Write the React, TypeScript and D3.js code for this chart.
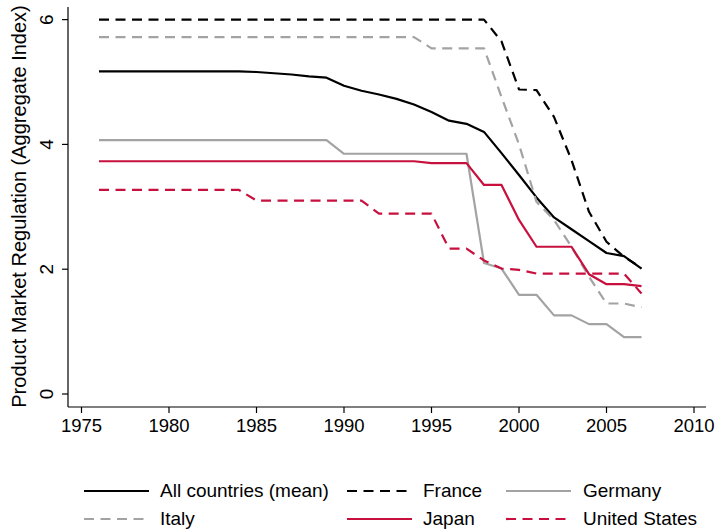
import React, { useEffect, useRef } from "react";
import * as d3 from "d3";

// Years on the x axis
const years = [
  1976, 1977, 1978, 1979, 1980, 1981, 1982, 1983, 1984, 1985, 1986, 1987, 1988, 1989, 1990, 1991,
  1992, 1993, 1994, 1995, 1996, 1997, 1998, 1999, 2000, 2001, 2002, 2003, 2004, 2005, 2006, 2007,
];

const meanValues = [
  5.17, 5.17, 5.17, 5.17, 5.17, 5.17, 5.17, 5.17, 5.17, 5.16, 5.14, 5.12, 5.09, 5.07, 4.94, 4.86,
  4.8, 4.73, 4.64, 4.52, 4.38, 4.33, 4.2, 3.86, 3.51, 3.15, 2.83, 2.64, 2.45, 2.26, 2.21, 2.01,
];
const franceValues = [
  6.0, 6.0, 6.0, 6.0, 6.0, 6.0, 6.0, 6.0, 6.0, 6.0, 6.0, 6.0, 6.0, 6.0, 6.0, 6.0,
  6.0, 6.0, 6.0, 6.0, 6.0, 6.0, 6.0, 5.65, 4.88, 4.87, 4.44, 3.75, 2.92, 2.44, 2.2, 2.02,
];
const germanyValues = [
  4.07, 4.07, 4.07, 4.07, 4.07, 4.07, 4.07, 4.07, 4.07, 4.07, 4.07, 4.07, 4.07, 4.07, 3.85, 3.85,
  3.85, 3.85, 3.85, 3.85, 3.85, 3.85, 2.1, 2.01, 1.59, 1.59, 1.26, 1.26, 1.12, 1.12, 0.91, 0.91,
];
const italyValues = [
  5.72, 5.72, 5.72, 5.72, 5.72, 5.72, 5.72, 5.72, 5.72, 5.72, 5.72, 5.72, 5.72, 5.72, 5.72, 5.72,
  5.72, 5.72, 5.72, 5.54, 5.54, 5.54, 5.54, 4.76, 4.0, 3.08, 2.79, 2.36, 1.88, 1.45, 1.45, 1.39,
];
const japanValues = [
  3.73, 3.73, 3.73, 3.73, 3.73, 3.73, 3.73, 3.73, 3.73, 3.73, 3.73, 3.73, 3.73, 3.73, 3.73, 3.73,
  3.73, 3.73, 3.73, 3.7, 3.7, 3.7, 3.35, 3.35, 2.79, 2.36, 2.36, 2.36, 1.92, 1.76, 1.76, 1.73,
];
const usValues = [
  3.27, 3.27, 3.27, 3.27, 3.27, 3.27, 3.27, 3.27, 3.27, 3.1, 3.1, 3.1, 3.1, 3.1, 3.1, 3.1,
  2.89, 2.89, 2.89, 2.89, 2.33, 2.33, 2.14, 2.01, 1.99, 1.93, 1.93, 1.93, 1.93, 1.93, 1.93, 1.61,
];

const xTicks = [1975, 1980, 1985, 1990, 1995, 2000, 2005, 2010];
const yTicks = [0, 2, 4, 6];

const BLACK = "#000000";
const GRAY = "#a3a3a3";
const RED = "#c8103e";
const DASH = "10,6.5";

const series = [
  { name: "All countries (mean)", values: meanValues, color: BLACK, dashed: false },
  { name: "France", values: franceValues, color: BLACK, dashed: true },
  { name: "Germany", values: germanyValues, color: GRAY, dashed: false },
  { name: "Italy", values: italyValues, color: GRAY, dashed: true },
  { name: "Japan", values: japanValues, color: RED, dashed: false },
  { name: "United States", values: usValues, color: RED, dashed: true },
];

const FONT = "'Liberation Sans', Arial, Helvetica, sans-serif";

const App = () => {
  const svgRef = useRef<SVGSVGElement>(null);
  const width = 718;
  const height = 529;

  useEffect(() => {
    const svg = d3.select(svgRef.current);
    svg.selectAll("*").remove();

    const x = d3.scaleLinear().domain([1975, 2010]).range([81.5, 694]);
    const y = d3.scaleLinear().domain([0, 6]).range([394, 19.6]);

    // axis lines (Stata style, separate)
    svg.append("line")
      .attr("x1", 68).attr("x2", 68)
      .attr("y1", 7).attr("y2", 407)
      .attr("stroke", "#000").attr("stroke-width", 1.2);
    svg.append("line")
      .attr("x1", 68).attr("x2", 706)
      .attr("y1", 407).attr("y2", 407)
      .attr("stroke", "#000").attr("stroke-width", 1.2);

    // y ticks + rotated labels
    yTicks.forEach((t) => {
      svg.append("line")
        .attr("x1", 62).attr("x2", 68)
        .attr("y1", y(t)).attr("y2", y(t))
        .attr("stroke", "#000").attr("stroke-width", 1.2);
      svg.append("text")
        .attr("transform", `translate(53,${y(t)}) rotate(-90)`)
        .attr("text-anchor", "middle")
        .style("font-family", FONT)
        .style("font-size", "19px")
        .text(t);
    });

    // x ticks + labels
    xTicks.forEach((t) => {
      svg.append("line")
        .attr("x1", x(t)).attr("x2", x(t))
        .attr("y1", 407).attr("y2", 413)
        .attr("stroke", "#000").attr("stroke-width", 1.2);
      svg.append("text")
        .attr("x", x(t)).attr("y", 431.5)
        .attr("text-anchor", "middle")
        .style("font-family", FONT)
        .style("font-size", "18.5px")
        .text(t);
    });

    // y axis title
    svg.append("text")
      .attr("transform", "translate(26,206.5) rotate(-90)")
      .attr("text-anchor", "middle")
      .style("font-family", FONT)
      .style("font-size", "20px")
      .text("Product Market Regulation (Aggregate Index)");

    // lines
    const line = d3.line<number>()
      .x((_, i) => x(years[i]))
      .y((d) => y(d));

    series.forEach((s) => {
      svg.append("path")
        .datum(s.values)
        .attr("d", line)
        .attr("fill", "none")
        .attr("stroke", s.color)
        .attr("stroke-width", 2.2)
        .attr("stroke-linejoin", "round")
        .attr("stroke-dasharray", s.dashed ? DASH : null);
    });

    // legend
    const colX = [84, 347, 506];
    const textX = [160, 423, 583];
    const rowY = [491, 519];
    const textY = [497, 525];
    series.forEach((s, i) => {
      const col = i % 3;
      const row = Math.floor(i / 3);
      svg.append("line")
        .attr("x1", colX[col]).attr("x2", colX[col] + 65)
        .attr("y1", rowY[row]).attr("y2", rowY[row])
        .attr("stroke", s.color)
        .attr("stroke-width", 2.2)
        .attr("stroke-dasharray", s.dashed ? DASH : null);
      svg.append("text")
        .attr("x", textX[col]).attr("y", textY[row])
        .style("font-family", FONT)
        .style("font-size", "19px")
        .text(s.name);
    });
  }, []);

  return (
    <svg
      ref={svgRef}
      width={width}
      height={height}
      style={{ position: "absolute", left: 0, top: 0, background: "#fff" }}
    />
  );
};

export default App;
